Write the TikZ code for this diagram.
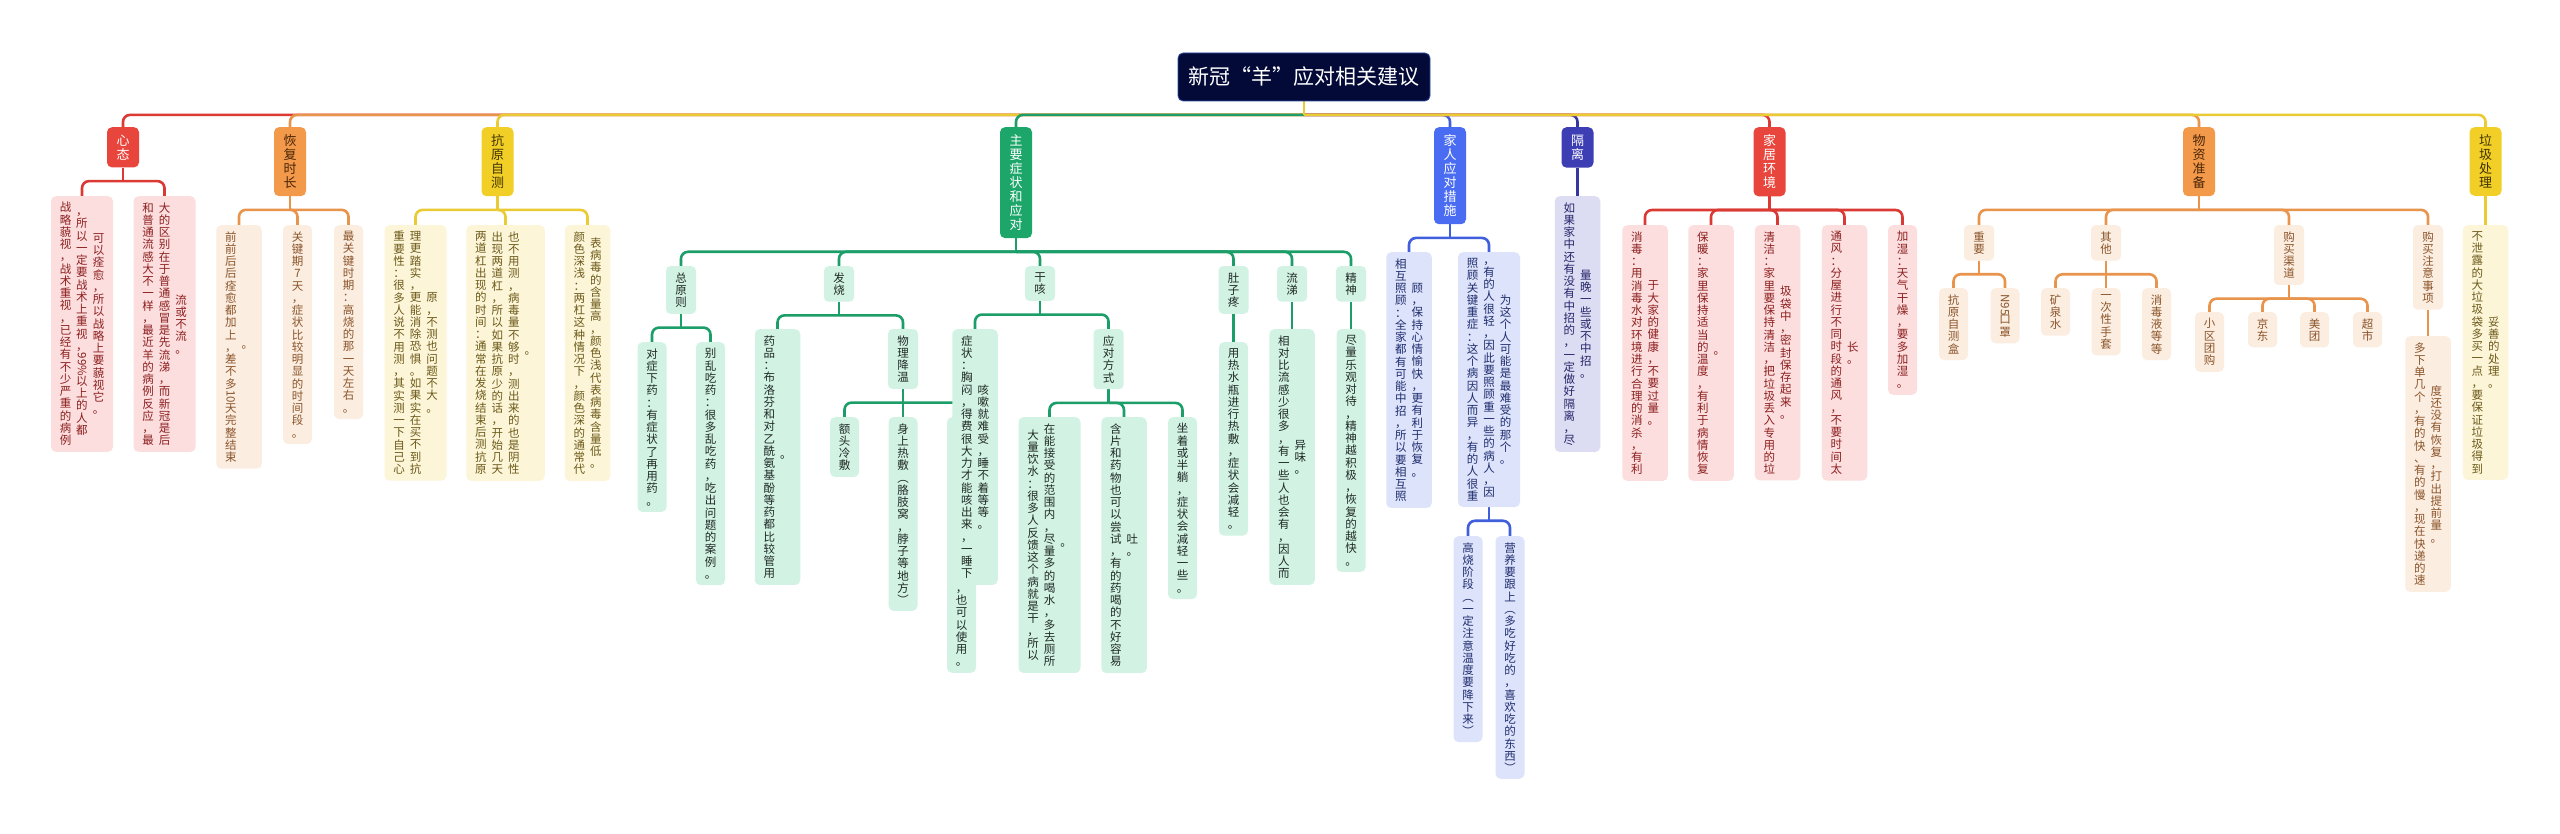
\documentclass[tikz,border=0pt]{standalone}
\usepackage{fontspec}
\setmainfont{Noto Sans CJK SC}
\usepackage{graphicx}
\usetikzlibrary{backgrounds}
\ExplSyntaxOn
\dim_new:N \l_vc_cw_dim
\dim_new:N \l_vc_pitch_dim
\dim_new:N \l_vc_gap_dim
\dim_set:Nn \l_vc_cw_dim {12pt}
\dim_set:Nn \l_vc_pitch_dim {12.25pt}
\dim_set:Nn \l_vc_gap_dim {4.5pt}
\seq_new:N \l_vc_cols_seq
\bool_new:N \l_vc_first_bool
\cs_new_protected:Npn \vc_cell:n #1
  {
    \int_compare:nNnTF { \tl_count:n {#1} } > { 1 }
      { \hbox_to_wd:nn { \l_vc_cw_dim } { \hss \raisebox{0.86em}{\rotatebox{-90}{#1}} \hss } }
      { \hbox_to_wd:nn { \l_vc_cw_dim } { \hss #1 \hss } }
  }
\cs_new_protected:Npn \vc_col:n #1
  {
    \ensuremath
      {
        \vcenter
          {
            \skip_set:Nn \baselineskip { \l_vc_pitch_dim }
            \skip_set:Nn \lineskip { 0pt }
            \dim_set:Nn \lineskiplimit { 0pt }
            \tl_map_inline:nn {#1} { \vc_cell:n {##1} }
          }
      }
  }
\NewDocumentCommand{\vt}{m}
  {
    \seq_set_split:Nnn \l_vc_cols_seq {|} {#1}
    \bool_set_true:N \l_vc_first_bool
    \seq_map_inline:Nn \l_vc_cols_seq
      {
        \bool_if:NTF \l_vc_first_bool
          { \bool_set_false:N \l_vc_first_bool }
          { \hspace{\l_vc_gap_dim} }
        \vc_col:n {##1}
      }
  }
\NewDocumentCommand{\setvc}{mm}
  {
    \dim_set:Nn \l_vc_pitch_dim {#1}
    \dim_set:Nn \l_vc_cw_dim {#2}
  }
\ExplSyntaxOff
\newcommand\mnfont{\fontsize{13}{14}\selectfont\setvc{14pt}{13pt}}
\newcommand\lffont{\fontsize{11.5}{12.25}\selectfont\setvc{12.25pt}{12pt}}
\definecolor{cRed}{HTML}{E8453C}
\definecolor{lRed}{HTML}{DB3A34}
\definecolor{fRed}{HTML}{FCDEDE}
\definecolor{tRed}{HTML}{8C1F1F}
\definecolor{cOra}{HTML}{F2994A}
\definecolor{lOra}{HTML}{E8944C}
\definecolor{fOra}{HTML}{FCEDE1}
\definecolor{tOra}{HTML}{8A552A}
\definecolor{kOra}{HTML}{4A2608}
\definecolor{cYel}{HTML}{F2CF26}
\definecolor{lYel}{HTML}{EBCB33}
\definecolor{fYel}{HTML}{FDF5D8}
\definecolor{tYel}{HTML}{6B5A1A}
\definecolor{kYel}{HTML}{3F3300}
\definecolor{cGrn}{HTML}{1DA66A}
\definecolor{lGrn}{HTML}{1C9E68}
\definecolor{fGrn}{HTML}{D2F2E4}
\definecolor{tGrn}{HTML}{1F2A25}
\definecolor{cBlu}{HTML}{4A6CF2}
\definecolor{lBlu}{HTML}{3F5FDC}
\definecolor{fBlu}{HTML}{DDE3FA}
\definecolor{tBlu}{HTML}{1F2D6E}
\definecolor{cInd}{HTML}{3E3EB4}
\definecolor{lInd}{HTML}{3636A0}
\definecolor{fInd}{HTML}{DCDCF2}
\definecolor{tInd}{HTML}{25256A}
\definecolor{cNav}{HTML}{030A38}
\definecolor{bNav}{HTML}{2F4FA8}
\tikzset{
  mnode/.style={rounded corners=5pt, inner xsep=9.5pt, inner ysep=7.5pt, anchor=north, font=\mnfont},
  snode/.style={rounded corners=4.5pt, inner xsep=9pt, inner ysep=6.3pt, anchor=north, font=\lffont},
  lnode/.style={rounded corners=5pt, inner xsep=8.5pt, inner ysep=6.2pt, anchor=north, font=\lffont},
  lR/.style={lnode, fill=fRed, text=tRed},
  lO/.style={lnode, fill=fOra, text=tOra},
  lY/.style={lnode, fill=fYel, text=tYel},
  lG/.style={lnode, fill=fGrn, text=tGrn},
  lB/.style={lnode, fill=fBlu, text=tBlu},
  lI/.style={lnode, fill=fInd, text=tInd},
  sG/.style={snode, fill=fGrn, text=tGrn},
  sO/.style={snode, fill=fOra, text=tOra},
  wire/.style={line width=2.6pt, rounded corners=7pt},
}
\newcommand\lnk[3]{\draw[wire,#1] (#2.south) -- ++(0,13.5); \draw[wire,#1] (#2.south) ++(0,13.5) -| (#3.north);}
\newcommand\vln[3]{\draw[wire,#1] (#2.south) -- (#3.north);}
\begin{document}
\begin{tikzpicture}[x=1pt,y=-1pt]
\useasboundingbox (0,0) rectangle (2560,834);
% root
\node[fill=cNav, draw=bNav, line width=0.8pt, rounded corners=5pt, minimum width=252pt, minimum height=48pt, text=white, font=\fontsize{21}{24}\selectfont, inner sep=0pt] (R) at (1304,77) {新冠“羊”应对相关建议};
% main nodes
\node[mnode,fill=cRed,text=white] (M1) at (123,127) {\vt{心态}};
\node[mnode,fill=cOra,text=kOra] (M2) at (290,127) {\vt{恢复时长}};
\node[mnode,fill=cYel,text=kYel] (M3) at (497.5,127) {\vt{抗原自测}};
\node[mnode,fill=cGrn,text=white] (M4) at (1016,127) {\vt{主要症状和应对}};
\node[mnode,fill=cBlu,text=white] (M5) at (1450,127) {\vt{家人应对措施}};
\node[mnode,fill=cInd,text=white] (M6) at (1577.5,127) {\vt{隔离}};
\node[mnode,fill=cRed,text=white] (M7) at (1769.5,127) {\vt{家居环境}};
\node[mnode,fill=cOra,text=kOra] (M8) at (2199,127) {\vt{物资准备}};
\node[mnode,fill=cYel,text=kYel] (M9) at (2485.5,127) {\vt{垃圾处理}};
% 心态
\node[lR] (A1) at (82,196) {\vt{战略藐视，战术重视，已经有不少严重的病例|，所以一定要战术上重视，{99\%}以上的人都|可以痊愈，所以战略上要藐视它。}};
\node[lR] (A2) at (164.5,196) {\vt{和普通流感大不一样，最近羊的病例反应，最|大的区别在于普通感冒是先流涕，而新冠是后|流或不流。}};
% 恢复时长
\node[lO] (B1) at (239,225) {\vt{前前后后痊愈都加上，差不多{10}天完整结束|。}};
\node[lO] (B2) at (297.5,225) {\vt{关键期7天，症状比较明显的时间段。}};
\node[lO] (B3) at (348.5,225) {\vt{最关键时期：高烧的那一天左右。}};
% 抗原自测
\node[lY] (C1) at (415.5,225) {\vt{重要性：很多人说不用测，其实测一下自己心|理更踏实，更能消除恐惧。如果实在买不到抗|原，不测也问题不大。}};
\node[lY] (C2) at (505.5,225) {\vt{两道杠出现的时间：通常在发烧结束后测抗原|出现两道杠，所以如果抗原少的话，开始几天|也不用测，病毒量不够时，测出来的也是阴性|。}};
\node[lY] (C3) at (587.5,225) {\vt{颜色深浅：两杠这种情况下，颜色深的通常代|表病毒的含量高，颜色浅代表病毒含量低。}};
% 主要症状和应对
\node[sG] (D1) at (681,266) {\vt{总原则}};
\node[sG] (D2) at (839,266) {\vt{发烧}};
\node[sG] (D3) at (1040,266) {\vt{干咳}};
\node[sG] (D4) at (1233.5,266) {\vt{肚子疼}};
\node[sG] (D5) at (1292,266) {\vt{流涕}};
\node[sG] (D6) at (1351,266) {\vt{精神}};
\node[lG] (D11) at (652,342) {\vt{对症下药：有症状了再用药。}};
\node[lG] (D12) at (710.5,342) {\vt{别乱吃药：很多乱吃药，吃出问题的案例。}};
\node[lG] (D21) at (777.5,329) {\vt{药品：布洛芬和对乙酰氨基酚等药都比较管用|。}};
\node[sG] (D22) at (903,329) {\vt{物理降温}};
\node[lG] (D221) at (844.5,417) {\vt{额头冷敷}};
\node[lG] (D222) at (903,417) {\vt{身上热敷︵胳肢窝，脖子等地方︶}};
\node[lG] (D223) at (961.5,417) {\vt{矿泉水冻在冰箱里，垫上手巾，也可以使用。}};
\node[lG] (D31) at (975,329) {\vt{症状：胸闷，得费很大力才能咳出来，一睡下|咳嗽就难受，睡不着等等。}};
\node[sG] (D32) at (1108.5,329) {\vt{应对方式}};
\node[lG] (D321) at (1049.5,417) {\vt{大量饮水：很多人反馈这个病就是干，所以|在能接受的范围内，尽量多的喝水，多去厕所|。}};
\node[lG] (D322) at (1124,417) {\vt{含片和药物也可以尝试，有的药喝的不好容易|吐。}};
\node[lG] (D323) at (1182.5,417) {\vt{坐着或半躺，症状会减轻一些。}};
\node[lG] (D41) at (1233.5,342) {\vt{用热水瓶进行热敷，症状会减轻。}};
\node[lG] (D51) at (1292,329) {\vt{相对比流感少很多，有一些人也会有，因人而|异味。}};
\node[lG] (D61) at (1351,329) {\vt{尽量乐观对待，精神越积极，恢复的越快。}};
% 家人应对措施
\node[lB] (E1) at (1409,252) {\vt{相互照顾：全家都有可能中招，所以要相互照|顾，保持心情愉快，更有利于恢复。}};
\node[lB] (E2) at (1489,252) {\vt{照顾关键重症：这个病因人而异，有的人很重|，有的人很轻，因此要照顾重一些的病人，因|为这个人可能是最难受的那个。}};
\node[lB] (E21) at (1468,536) {\vt{高烧阶段︵一定注意温度要降下来︶}};
\node[lB] (E22) at (1510,536) {\vt{营养要跟上︵多吃好吃的，喜欢吃的东西︶}};
% 隔离
\node[lI] (F1) at (1577.5,196) {\vt{如果家中还有没有中招的，一定做好隔离，尽|量晚一些或不中招。}};
% 家居环境
\node[lR] (G1) at (1645,225) {\vt{消毒：用消毒水对环境进行合理的消杀，有利|于大家的健康，不要过量。}};
\node[lR] (G2) at (1711,225) {\vt{保暖：家里保持适当的温度，有利于病情恢复|。}};
\node[lR] (G3) at (1777.5,225) {\vt{清洁：家里要保持清洁，把垃圾丢入专用的垃|圾袋中，密封保存起来。}};
\node[lR] (G4) at (1844.5,225) {\vt{通风：分屋进行不同时段的通风，不要时间太|长。}};
\node[lR] (G5) at (1902.5,225) {\vt{加湿：天气干燥，要多加湿。}};
% 物资准备
\node[sO] (H1) at (1979,225) {\vt{重要}};
\node[sO] (H2) at (2106,225) {\vt{其他}};
\node[sO] (H3) at (2289,225) {\vt{购买渠道}};
\node[sO] (H4) at (2428,225) {\vt{购买注意事项}};
\node[lO] (H11) at (1953.5,288) {\vt{抗原自测盒}};
\node[lO] (H12) at (2005,288) {\vt{{N95}口罩}};
\node[lO] (H21) at (2055.5,288) {\vt{矿泉水}};
\node[lO] (H22) at (2106,288) {\vt{一次性手套}};
\node[lO] (H23) at (2156.5,288) {\vt{消毒液等等}};
\node[lO] (H31) at (2209.5,312) {\vt{小区团购}};
\node[lO] (H32) at (2262.5,312) {\vt{京东}};
\node[lO] (H33) at (2314.5,312) {\vt{美团}};
\node[lO] (H34) at (2367.5,312) {\vt{超市}};
\node[lO] (H41) at (2428,336) {\vt{多下单几个，有的快、有的慢，现在快递的速|度还没有恢复，打出提前量。}};
% 垃圾处理
\node[lY] (I1) at (2485.5,225) {\vt{不泄露的大垃圾袋多买一点，要保证垃圾得到|妥善的处理。}};
\begin{pgfonlayer}{background}
\fill[white] (0,0) rectangle (2560,834);
% root links
\lnk{lRed}{R}{M1}
\lnk{lOra}{R}{M2}
\lnk{lYel}{R}{M3}
\lnk{lGrn}{R}{M4}
\lnk{lBlu}{R}{M5}
\lnk{lInd}{R}{M6}
\lnk{lRed}{R}{M7}
\lnk{lOra}{R}{M8}
\lnk{lYel}{R}{M9}
% 心态
\lnk{lRed}{M1}{A1}
\lnk{lRed}{M1}{A2}
% 恢复
\lnk{lOra}{M2}{B1}
\lnk{lOra}{M2}{B2}
\lnk{lOra}{M2}{B3}
% 抗原
\lnk{lYel}{M3}{C1}
\lnk{lYel}{M3}{C2}
\lnk{lYel}{M3}{C3}
% 主要
\lnk{lGrn}{M4}{D1}
\lnk{lGrn}{M4}{D2}
\lnk{lGrn}{M4}{D3}
\lnk{lGrn}{M4}{D4}
\lnk{lGrn}{M4}{D5}
\lnk{lGrn}{M4}{D6}
\lnk{lGrn}{D1}{D11}
\lnk{lGrn}{D1}{D12}
\lnk{lGrn}{D2}{D21}
\lnk{lGrn}{D2}{D22}
\lnk{lGrn}{D22}{D221}
\vln{lGrn}{D22}{D222}
\lnk{lGrn}{D22}{D223}
\lnk{lGrn}{D3}{D31}
\lnk{lGrn}{D3}{D32}
\lnk{lGrn}{D32}{D321}
\lnk{lGrn}{D32}{D322}
\lnk{lGrn}{D32}{D323}
\vln{lGrn}{D4}{D41}
\vln{lGrn}{D5}{D51}
\vln{lGrn}{D6}{D61}
% 家人
\lnk{lBlu}{M5}{E1}
\lnk{lBlu}{M5}{E2}
\lnk{lBlu}{E2}{E21}
\lnk{lBlu}{E2}{E22}
% 隔离
\vln{lInd}{M6}{F1}
% 家居
\lnk{lRed}{M7}{G1}
\lnk{lRed}{M7}{G2}
\lnk{lRed}{M7}{G3}
\lnk{lRed}{M7}{G4}
\lnk{lRed}{M7}{G5}
% 物资
\lnk{lOra}{M8}{H1}
\lnk{lOra}{M8}{H2}
\lnk{lOra}{M8}{H3}
\lnk{lOra}{M8}{H4}
\lnk{lOra}{H1}{H11}
\lnk{lOra}{H1}{H12}
\lnk{lOra}{H2}{H21}
\vln{lOra}{H2}{H22}
\lnk{lOra}{H2}{H23}
\lnk{lOra}{H3}{H31}
\lnk{lOra}{H3}{H32}
\lnk{lOra}{H3}{H33}
\lnk{lOra}{H3}{H34}
\vln{lOra}{H4}{H41}
% 垃圾
\vln{lYel}{M9}{I1}
\end{pgfonlayer}
\end{tikzpicture}
\end{document}
